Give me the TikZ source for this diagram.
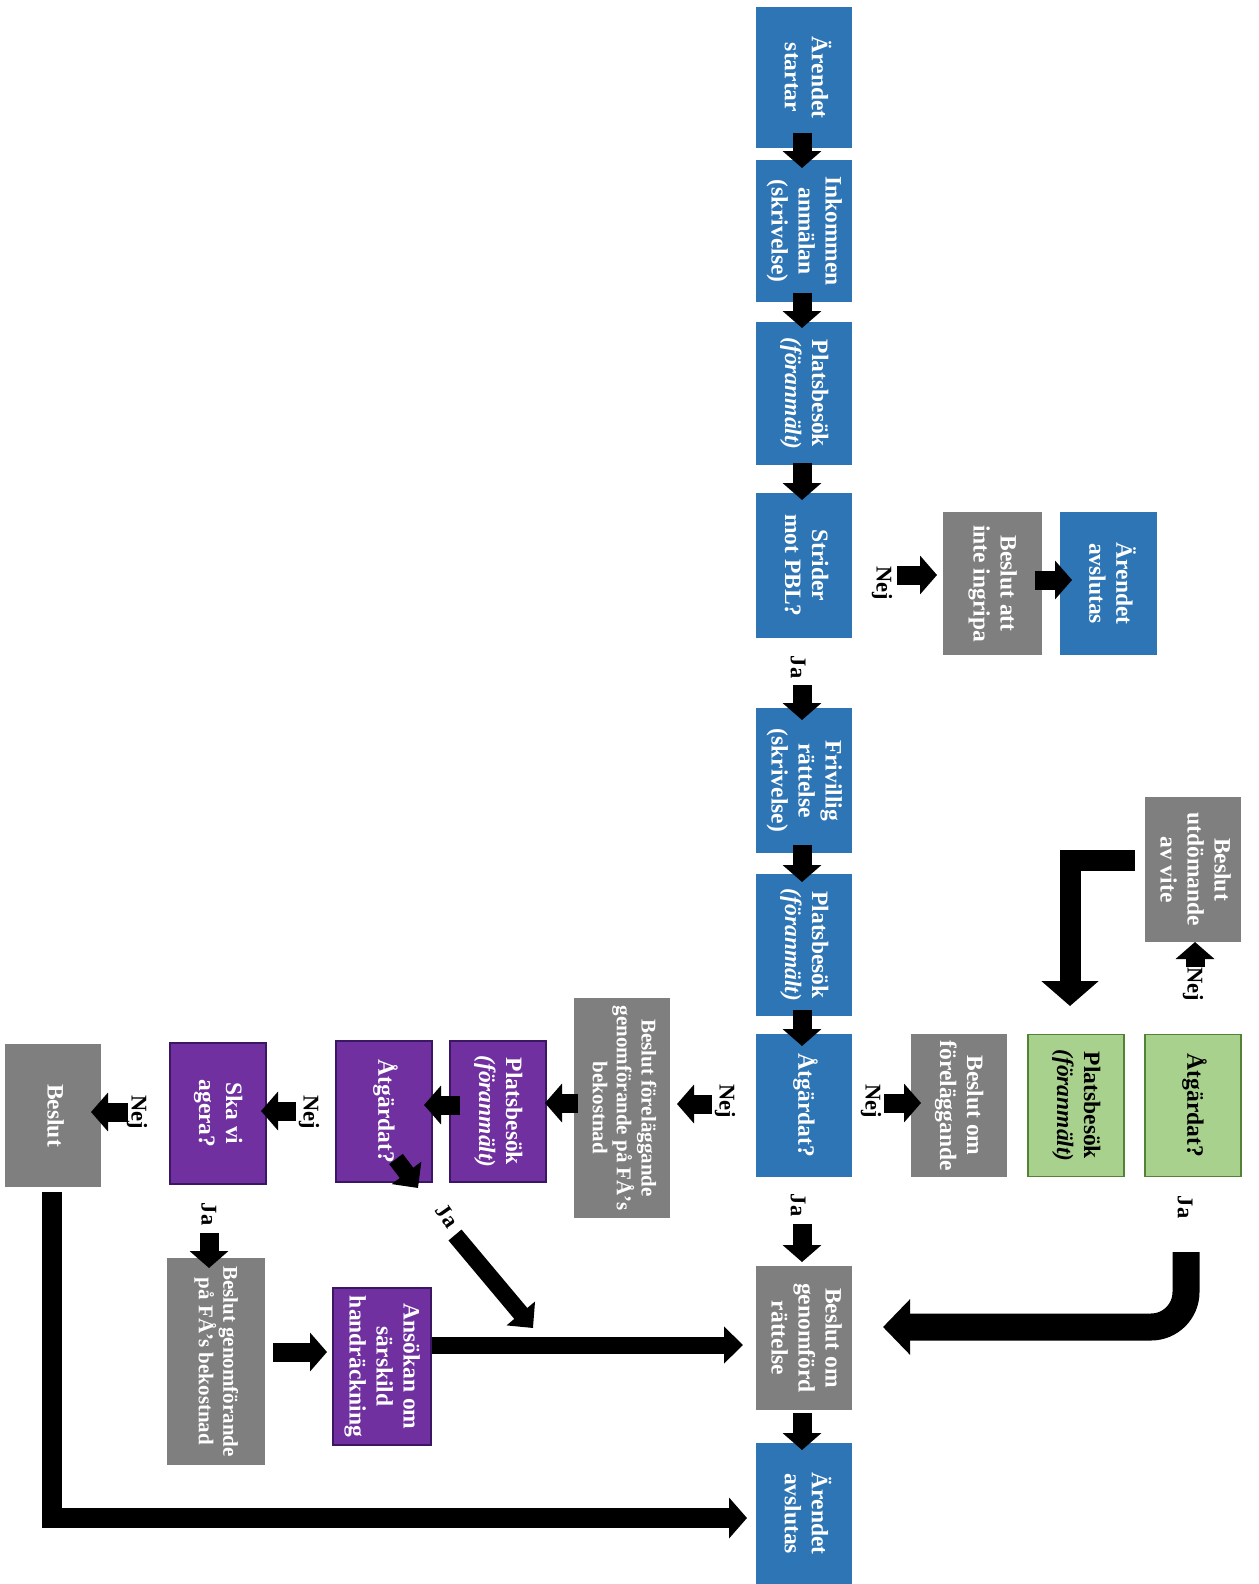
\documentclass[tikz,border=0pt]{standalone}
\usepackage{fontspec}
\setmainfont{Liberation Serif}
\usetikzlibrary{arrows.meta,calc}
\definecolor{cblue}{HTML}{2E75B6}
\definecolor{cgrey}{HTML}{7F7F7F}
\definecolor{cpurple}{HTML}{7030A0}
\definecolor{cpurpleb}{HTML}{3B1763}
\definecolor{cgreen}{HTML}{A9D18E}
\definecolor{cgreenb}{HTML}{548235}
\newcommand{\vtxt}[1]{\rotatebox{-90}{\begin{tabular}{@{}c@{}}#1\end{tabular}}}
\begin{document}
\begin{tikzpicture}[x=1pt,y=-1pt,
  box/.style={rectangle, inner sep=0pt, minimum width=96pt, minimum height=143pt, text=white, font=\bfseries\fontsize{23.5}{27}\selectfont},
  bluebox/.style={box, fill=cblue},
  greybox/.style={box, fill=cgrey},
  purplebox/.style={box, fill=cpurple, draw=cpurpleb, line width=1.2pt},
  greenbox/.style={box, fill=cgreen, draw=cgreenb, line width=1.5pt, text=black},
  smalltxt/.style={font=\bfseries\fontsize{21}{24}\selectfont},
  lbl/.style={font=\bfseries\fontsize{22.5}{25}\selectfont, inner sep=0pt, text=black},
  sarr/.style={draw=black, line width=19pt, -{Triangle[width=38pt,length=17pt]}},
  marr/.style={draw=black, line width=17pt, line join=miter, -{Triangle[width=36pt,length=19pt]}},
  barr/.style={draw=black, line width=21pt, line join=miter, -{Triangle[width=56pt,length=25pt]}},
  jarr/.style={draw=black, line width=27pt, rounded corners=35pt, -{Triangle[width=54pt,length=27pt]}},
  larr/.style={draw=black, line width=20pt, line join=miter, -{Triangle[width=40pt,length=18pt]}}
]
\fill[white] (0,0) rectangle (1258,1584);
\useasboundingbox (0,0) rectangle (1258,1584);

% main column
\node[bluebox, minimum height=141pt] (n1) at (804,77.5) {\vtxt{Ärendet\\startar}};
\node[bluebox, minimum height=142pt] (n2) at (804,231) {\vtxt{Inkommen\\anmälan\\(skrivelse)}};
\node[bluebox] (n3) at (804,393.5) {\vtxt{Platsbesök\\\textit{(föranmält)}}};
\node[bluebox, minimum height=145pt] (n4) at (804,565.5) {\vtxt{Strider\\mot PBL?}};
\node[bluebox, minimum height=145pt] (n5) at (804,780.5) {\vtxt{Frivillig\\rättelse\\(skrivelse)}};
\node[bluebox, minimum height=142pt] (n6) at (804,945) {\vtxt{Platsbesök\\\textit{(föranmält)}}};
\node[bluebox] (n7) at (804,1105.5) {\vtxt{Åtgärdat?}};
\node[greybox, minimum height=144pt] (n8) at (804,1338) {\vtxt{Beslut om\\genomförd\\rättelse}};
\node[bluebox, minimum height=141pt] (n9) at (804,1513.5) {\vtxt{Ärendet\\avslutas}};

% right side
\node[greybox, minimum width=99pt] (r1) at (992.5,583.5) {\vtxt{Beslut att\\inte ingripa}};
\node[bluebox, minimum width=97pt] (r2) at (1108.5,583.5) {\vtxt{Ärendet\\avslutas}};
\node[greybox, minimum height=145pt] (v1) at (1193,869.5) {\vtxt{Beslut\\utdömande\\av vite}};
\node[greybox] (f1) at (959,1105.5) {\vtxt{Beslut om\\föreläggande}};
\node[greenbox, minimum height=142pt] (g1) at (1076,1105.5) {\vtxt{Platsbesök\\\textit{(föranmält)}}};
\node[greenbox, minimum height=142pt] (g2) at (1193,1105.5) {\vtxt{Åtgärdat?}};

% left side
\node[greybox, minimum height=220pt, smalltxt] (l1) at (622,1108) {\vtxt{Beslut föreläggande\\genomförande på FÅ’s\\bekostnad}};
\node[purplebox, minimum height=141pt] (p1) at (498,1111.5) {\vtxt{Platsbesök\\\textit{(föranmält)}}};
\node[purplebox, minimum height=141pt] (p2) at (384,1111.5) {\vtxt{Åtgärdat?}};
\node[purplebox, minimum height=141pt] (p3) at (218,1113.5) {\vtxt{Ska vi\\agera?}};
\node[greybox] (b1) at (53,1115.5) {\vtxt{Beslut}};
\node[greybox, minimum width=98pt, minimum height=207pt, smalltxt] (l2) at (216,1361.5) {\vtxt{Beslut genomförande\\på FÅ’s bekostnad}};
\node[purplebox, minimum width=98pt, minimum height=157pt] (p4) at (382,1366.5) {\vtxt{Ansökan om\\särskild\\handräckning}};

% labels
\node[lbl, rotate=-90] (la1) at (798,667) {Ja};
\node[lbl, rotate=-90] (la2) at (882,583) {Nej};
\node[lbl, rotate=-90] (la3) at (871,1101) {Nej};
\node[lbl, rotate=-90] (la4) at (798,1205) {Ja};
\node[lbl, rotate=-90] (la5) at (1193,984) {Nej};
\node[lbl, rotate=-90] (la6) at (1185,1207) {Ja};
\node[lbl, rotate=-90] (la7) at (725,1101) {Nej};
\node[lbl, rotate=-90] (la8) at (309,1112) {Nej};
\node[lbl, rotate=-90] (la9) at (137,1112) {Nej};
\node[lbl, rotate=-90] (la10) at (209,1214) {Ja};
\node[lbl, rotate=-55] (la11) at (447,1216) {Ja};

\coordinate (d0) at (418,1188);
\coordinate (d1) at (455,1235);
\coordinate (d2) at (533,1328);

% main column arrows
\draw[sarr] ($(n1)+(-2,55.5)$) -- ($(n2)+(-2,-63)$);
\draw[sarr] ($(n2)+(-2,62)$) -- ($(n3)+(-2,-65.5)$);
\draw[sarr] ($(n3)+(-2,69.5)$) -- ($(n4)+(-2,-65.5)$);
\draw[sarr] ($(n4)+(-2,119.5)$) -- ($(n5)+(-2,-60.5)$);
\draw[sarr] ($(n5)+(-2,64.5)$) -- ($(n6)+(-2,-63)$);
\draw[sarr] ($(n6)+(-2,65)$) -- ($(n7)+(-2,-59.5)$);
\draw[sarr] ($(n7)+(-2,118.5)$) -- ($(n8)+(-2,-76)$);
\draw[sarr] ($(n8)+(-2,75)$) -- ($(n9)+(-2,-63.5)$);

% right arrows
\draw[sarr] ($(r1)+(-95.5,-8.5)$) -- ($(r1)+(-55.5,-8.5)$);
\draw[sarr] ($(r1)+(42.5,-3.5)$) -- ($(r2)+(-36.5,-3.5)$);
\draw[sarr] ($(g2)+(2,-138.5)$) -- ($(v1)+(2,72.5)$);
\draw[barr] ($(v1)+(-58,-9.5)$) -| ($(g1)+(-6,-99.5)$);
\draw[sarr] ($(n7)+(80,-2.5)$) -- ($(f1)+(-38,-2.5)$);
\draw[jarr] ($(g2)+(-7,146.5)$) |- ($(n8)+(79,-11)$);

% left arrows
\draw[sarr] ($(n7)+(-92,-1.5)$) -- ($(l1)+(55,-4)$);
\draw[sarr] ($(l1)+(-44,-5)$) -- ($(p1)+(47,-8.5)$);
\draw[sarr] ($(p1)+(-38,-6.5)$) -- ($(p2)+(40,-6.5)$);
\draw[sarr] ($(p2)+(-88,-0.5)$) -- ($(p3)+(43,-2.5)$);
\draw[sarr] ($(p3)+(-90,-1.5)$) -- ($(b1)+(38,-3.5)$);
\draw[sarr] ($(p3)+(-9,119.5)$) -- ($(l2)+(-7,-93.5)$);
\draw[sarr] ($(l2)+(57,-9.5)$) -- ($(p4)+(-55,-14.5)$);
\draw[marr] ($(p4)+(50,-21.5)$) -- ($(n8)+(-61,7)$);
\draw[marr] ($(p2)+(12,47.5)$) -- (d0);
\draw[marr] (d1) -- (d2);
\draw[larr] ($(b1)+(-1,76.5)$) |- ($(n9)+(-57,4.5)$);
\end{tikzpicture}
\end{document}
